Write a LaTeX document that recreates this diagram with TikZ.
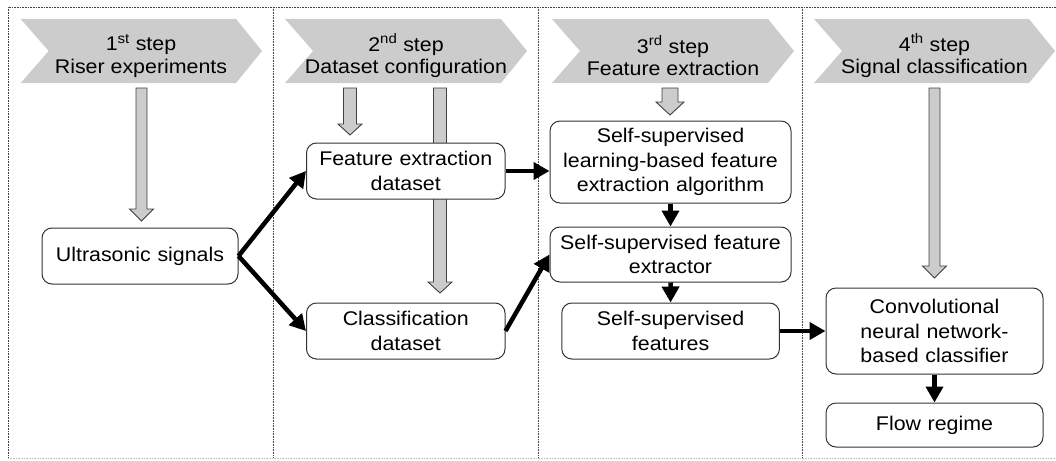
\documentclass[tikz,border=0pt]{standalone}
\usepackage{fontspec}
\setmainfont{Liberation Sans}[FakeStretch=1.08]
\usetikzlibrary{arrows.meta}
\definecolor{chev}{gray}{0.80}
\definecolor{garr}{gray}{0.80}
\definecolor{edge}{gray}{0.25}
\newcommand\grayarrow[6]{%
  \filldraw[garrowst] (#1-#5,#2) -- (#1+#5,#2) -- (#1+#5,#3) -- (#1+#6,#3) -- (#1,#4) -- (#1-#6,#3) -- (#1-#5,#3) -- cycle;}
\newcommand\chevron[3]{%
  \fill[chev] (#1,19) -- (#2-26,19) -- (#2,51) -- (#2-26,83) -- (#1,83) -- (#1+28,51) -- cycle;}
\begin{document}
\begin{tikzpicture}[x=1pt,y=-1pt,
  frame/.style={draw=edge,line width=0.8pt,dash pattern=on 0.8pt off 0.8pt},
  garrowst/.style={fill=garr,draw=black!75,line width=0.9pt,line join=miter},
  box/.style={draw=black!80,line width=1pt,rounded corners=10pt,fill=white,align=center,
    inner sep=0pt,font=\fontsize{19.8}{24.5}\selectfont,text=black},
  head/.style={align=center,inner sep=0pt,font=\fontsize{19.8}{22.5}\selectfont,text=black},
  barrow/.style={line width=4.5pt,-{Triangle[length=16pt,width=17pt]},black}]
\useasboundingbox (0,0) rectangle (1056,460);
% frame
\draw[frame] (1056,7) -- (8,7) -- (8,458);
\draw[frame,draw=black!25] (8,458) -- (1056,458);
\foreach \x in {273,538,802} \draw[frame] (\x,7) -- (\x,458);
% chevrons
\chevron{20.7}{262}{}
\chevron{285}{527}{}
\chevron{552}{794}{}
\chevron{814}{1055}{}
\node[head] (h1) at (141,56) {1\textsuperscript{st} step\\Riser experiments};
\node[head] (h2) at (406,56) {2\textsuperscript{nd} step\\Dataset configuration};
\node[head] (h3) at (673,56) {3\textsuperscript{rd} step\\Feature extraction};
\node[head] (h4) at (934.5,56) {4\textsuperscript{th} step\\Signal classification};
% gray block arrows
\grayarrow{141.5}{88}{209}{221}{5.5}{12}
\grayarrow{350}{88}{124}{135}{6.5}{12}
\grayarrow{440}{88}{282}{293}{6.5}{12}
\grayarrow{670}{88}{102}{115}{8}{14}
\grayarrow{934.5}{88}{266}{278}{5.5}{12}
% boxes
\node[box,text width=196pt,minimum height=56pt] (us) at (140,256) {Ultrasonic signals};
\node[box,text width=198.5pt,minimum height=56pt] (fe) at (405.75,171) {Feature extraction\\dataset};
\node[box,text width=198.5pt,minimum height=56pt] (cl) at (405.75,331) {Classification\\dataset};
\node[box,text width=241pt,minimum height=82pt] (ssl) at (670.5,162) {Self-supervised\\learning-based feature\\extraction algorithm};
\node[box,text width=241pt,minimum height=55pt] (ext) at (670.5,254.5) {Self-supervised feature\\extractor};
\node[box,text width=217.6pt,minimum height=56pt] (feat) at (670.6,331) {Self-supervised\\features};
\node[box,text width=217pt,minimum height=86pt] (cnn) at (934.5,331) {Convolutional\\neural network-\\based classifier};
\node[box,text width=217pt,minimum height=44pt] (flow) at (934.5,425) {Flow regime};
% black arrows
\draw[barrow] (us.east) -- (fe.west);
\draw[barrow] (us.east) -- (cl.west);
\draw[barrow] (fe.east) -- (ssl.west |- fe.east);
\draw[barrow] (cl.east) -- (ext.west);
\draw[barrow] (ssl.south) -- (ext.north);
\draw[barrow] (ext.south) -- (feat.north);
\draw[barrow] (feat.east) -- (cnn.west);
\draw[barrow] (cnn.south) -- (flow.north);
\end{tikzpicture}
\end{document}
